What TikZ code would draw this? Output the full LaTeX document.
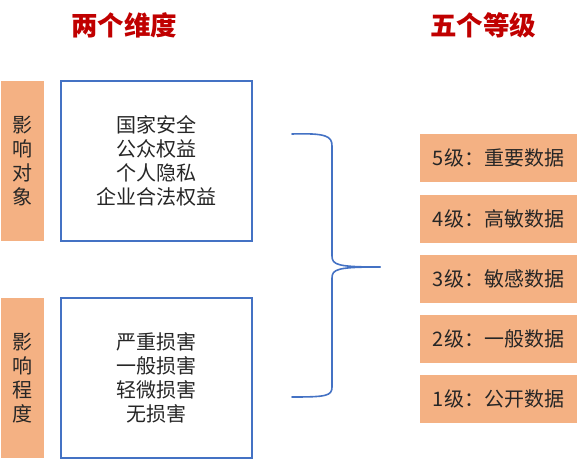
\documentclass[tikz,border=0pt]{standalone}
\usepackage{fontspec}
\setmainfont{Noto Sans CJK SC}
\usepackage{xcolor}
\usepackage{tikz}
\definecolor{headred}{HTML}{C00000}
\definecolor{peach}{HTML}{F4B183}
\definecolor{frame}{HTML}{4472C4}
\definecolor{ink}{HTML}{262626}
\tikzset{
  heading/.style={text=headred, font=\fontsize{26.5}{30}\selectfont\bfseries},
  sidebar/.style={fill=peach, inner sep=0pt, minimum width=43pt, minimum height=160pt,
    align=center, text=ink, font=\fontsize{20}{24}\selectfont},
  dimbox/.style={draw=frame, line width=1.6pt, fill=white, inner sep=0pt,
    minimum width=191pt, minimum height=160pt, align=center, text=ink,
    font=\fontsize{20}{24}\selectfont},
  levelbox/.style={fill=peach, inner sep=0pt, minimum width=157pt, minimum height=48pt,
    text=ink, font=\fontsize{20}{24}\selectfont},
  brace/.style={draw=frame, line width=1.6pt, line cap=round}
}

\begin{document}
\begin{tikzpicture}[x=1pt, y=-1pt]
  \useasboundingbox (0,0) rectangle (578,460);

  % titles
  \node[heading] (dimtitle) at (124,25) {两个维度};
  \node[heading] (lvltitle) at (483,25) {五个等级};

  % two dimensions
  \node[sidebar] (objbar) at (22.5,160.5) {影\\响\\对\\象};
  \node[dimbox]  (objbox) at (156.5,161) {国家安全\\公众权益\\个人隐私\\企业合法权益};
  \node[sidebar] (degbar) at (22.5,378) {影\\响\\程\\度};
  \node[dimbox]  (degbox) at (156.5,378) {严重损害\\一般损害\\轻微损害\\无损害};

  % brace
  \coordinate (tip) at (380,267);
  \draw[brace] (292,134) .. controls (326,133) and (332,136) .. (332,146)
    -- (332,256) .. controls (332,265) and (338,267) .. (tip);
  \draw[brace] (tip) .. controls (338,267) and (332,269) .. (332,278)
    -- (332,387) .. controls (332,396) and (326,397) .. (292,397);

  % five levels
  \node[levelbox] (lvl5) at (498.5,157.5) {5级：重要数据};
  \node[levelbox] (lvl4) at (498.5,218.5) {4级：高敏数据};
  \node[levelbox] (lvl3) at (498.5,279)   {3级：敏感数据};
  \node[levelbox] (lvl2) at (498.5,339)   {2级：一般数据};
  \node[levelbox] (lvl1) at (498.5,399)   {1级：公开数据};
\end{tikzpicture}
\end{document}
